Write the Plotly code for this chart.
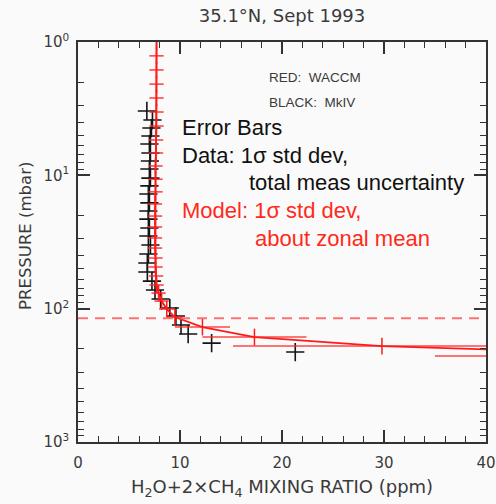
import plotly.graph_objects as go

# WACCM model profile (zonal mean) with 1-sigma spread
model_p = [0.97, 1.27, 1.62, 2.07, 2.63, 3.35, 4.27, 5.43, 6.80, 8.51, 10.7, 13.3,
           16.4, 20.2, 24.4, 29.5, 35.1, 41.7, 48.7, 56.9, 66.5, 76.4, 87.7,
           100.7, 115.6, 137.4, 163.3, 190.7, 226.6]
model_ppm = [7.7, 7.7, 7.7, 7.7, 7.7, 7.7, 7.7, 7.65, 7.65, 7.6, 7.6, 7.6,
             7.55, 7.55, 7.55, 7.55, 7.55, 7.6, 7.6, 7.65, 7.7, 7.9, 8.2,
             8.7, 9.5, 12.2, 17.3, 29.8, 60.0]
model_err = [0.7, 0.7, 0.7, 0.7, 0.7, 0.7, 0.7, 0.7, 0.7, 0.7, 0.7, 0.7,
             0.7, 0.7, 0.7, 0.7, 0.7, 0.7, 0.7, 0.7, 0.7, 0.7, 0.7,
             0.75, 0.8, 2.7, 5.1, 14.6, 25.0]

# MkIV balloon measurements
mk4_p = [3.29, 3.85, 4.42, 5.07, 5.82, 6.80, 7.81, 8.97, 10.5, 12.0, 13.8, 16.1,
         18.5, 21.3, 24.8, 28.5, 33.3, 38.9, 45.5, 53.1, 62.1, 72.5, 84.7,
         98.9, 113.6, 132.7, 155.0, 181.2, 211.5]
mk4_ppm = [6.75, 7.3, 7.2, 7.1, 7.0, 7.1, 7.05, 7.0, 7.1, 7.0, 6.9, 7.0,
           6.9, 6.9, 7.0, 6.9, 7.1, 6.9, 6.8, 6.8, 7.25, 7.55, 8.1,
           9.0, 9.6, 10.1, 10.8, 13.1, 21.3]

# tropopause reference level (mbar)
tropopause_p = 118.0

x_ticks = [0, 10, 20, 30, 40]
y_ticks = [1, 10, 100, 1000]
y_ticktext = ["10<sup>0</sup>", "10<sup>1</sup>", "10<sup>2</sup>", "10<sup>3</sup>"]
y_minor = [k * 10 ** n for n in range(0, 3) for k in range(2, 10)]

AX = "#333333"
TXT = "#3a3a3a"
RED = "#ff1a1a"
TICKFONT = dict(family="DejaVu Sans", size=15, color=TXT)

fig = go.Figure()

# MkIV data
fig.add_trace(go.Scatter(
    x=mk4_ppm, y=mk4_p, mode="markers",
    marker=dict(symbol="cross-thin", size=13, color="#151515",
                line=dict(color="#151515", width=1.6)),
    showlegend=False, cliponaxis=True,
))

# WACCM model with error bars
fig.add_trace(go.Scatter(
    x=model_ppm, y=model_p, mode="lines+markers",
    line=dict(color=RED, width=1.8),
    marker=dict(symbol="line-ns", size=12, color=RED,
                line=dict(color=RED, width=1.5)),
    error_x=dict(type="data", array=model_err, visible=True,
                 color="rgba(255,40,40,0.85)", thickness=1.6, width=0),
    showlegend=False, cliponaxis=True,
))

# tropopause marker
fig.add_trace(go.Scatter(
    x=[x_ticks[0], x_ticks[-1]], y=[tropopause_p, tropopause_p], mode="lines",
    line=dict(color="rgba(255,90,90,0.85)", width=2, dash="10px,7px"),
    showlegend=False, hoverinfo="skip",
))

fig.update_xaxes(
    range=[0, 40], tickvals=x_ticks, ticks="inside", ticklen=12, tickwidth=1.5,
    tickcolor=AX, showline=True, linecolor=AX, linewidth=1.5, mirror="allticks",
    showgrid=False, zeroline=False, tickfont=TICKFONT, ticklabelstandoff=6,
    automargin=False,
    minor=dict(dtick=2, ticks="inside", ticklen=6, tickwidth=1.2, tickcolor=AX,
               showgrid=False),
)
fig.update_yaxes(
    type="log", range=[3, 0], tickvals=y_ticks, ticktext=y_ticktext,
    ticks="inside", ticklen=12, tickwidth=1.5, tickcolor=AX,
    showline=True, linecolor=AX, linewidth=1.5, mirror="allticks",
    showgrid=False, zeroline=False, tickfont=TICKFONT, ticklabelstandoff=4,
    automargin=False,
    minor=dict(tickvals=y_minor, ticks="inside", ticklen=6, tickwidth=1.2,
               tickcolor=AX, showgrid=False),
)

ann = []
# axis titles
ann.append(dict(text="H<sub>2</sub>O+2×CH<sub>4</sub> MIXING RATIO (ppm)",
                xref="paper", yref="paper", x=0.5, y=-0.115,
                xanchor="center", yanchor="middle", showarrow=False,
                font=dict(family="DejaVu Sans", size=18, color=TXT)))
ann.append(dict(text="PRESSURE (mbar)", textangle=-90,
                xref="paper", yref="paper", x=-0.13, y=0.515,
                xanchor="center", yanchor="middle", showarrow=False,
                font=dict(family="DejaVu Sans", size=16.5, color=TXT)))
# source key
ann.append(dict(text="RED:\u00a0 WACCM", xref="paper", yref="paper",
                x=0.463, y=0.9125, xanchor="left", yanchor="middle",
                showarrow=False,
                font=dict(family="Liberation Sans", size=13.5, color=TXT)))
ann.append(dict(text="BLACK:\u00a0 MkIV", xref="paper", yref="paper",
                x=0.463, y=0.85, xanchor="left", yanchor="middle",
                showarrow=False,
                font=dict(family="Liberation Sans", size=13.5, color=TXT)))
# error-bar explanation
notes = [
    ("Error Bars", 0.25, 0.785, "#111111"),
    ("Data: 1σ std dev,", 0.25, 0.7175, "#111111"),
    ("total meas uncertainty", 0.414, 0.65, "#111111"),
    ("Model: 1σ std dev,", 0.25, 0.58, "#ff2a1a"),
    ("about zonal mean", 0.429, 0.51, "#ff2a1a"),
]
for txt, xp, yp, col in notes:
    ann.append(dict(text=txt, xref="paper", yref="paper", x=xp, y=yp,
                    xanchor="left", yanchor="middle", showarrow=False,
                    font=dict(family="Liberation Sans", size=22, color=col)))

fig.update_layout(
    width=496, height=504,
    margin=dict(l=78, r=10, t=42, b=62),
    paper_bgcolor="#fafafa", plot_bgcolor="#fafafa",
    title=dict(text="35.1°N, Sept 1993", x=0.5, xref="paper",
               y=1 - 16 / 504, yref="container", xanchor="center",
               yanchor="middle",
               font=dict(family="DejaVu Sans", size=18, color=TXT)),
    annotations=ann,
)

fig.write_html("out.html")
